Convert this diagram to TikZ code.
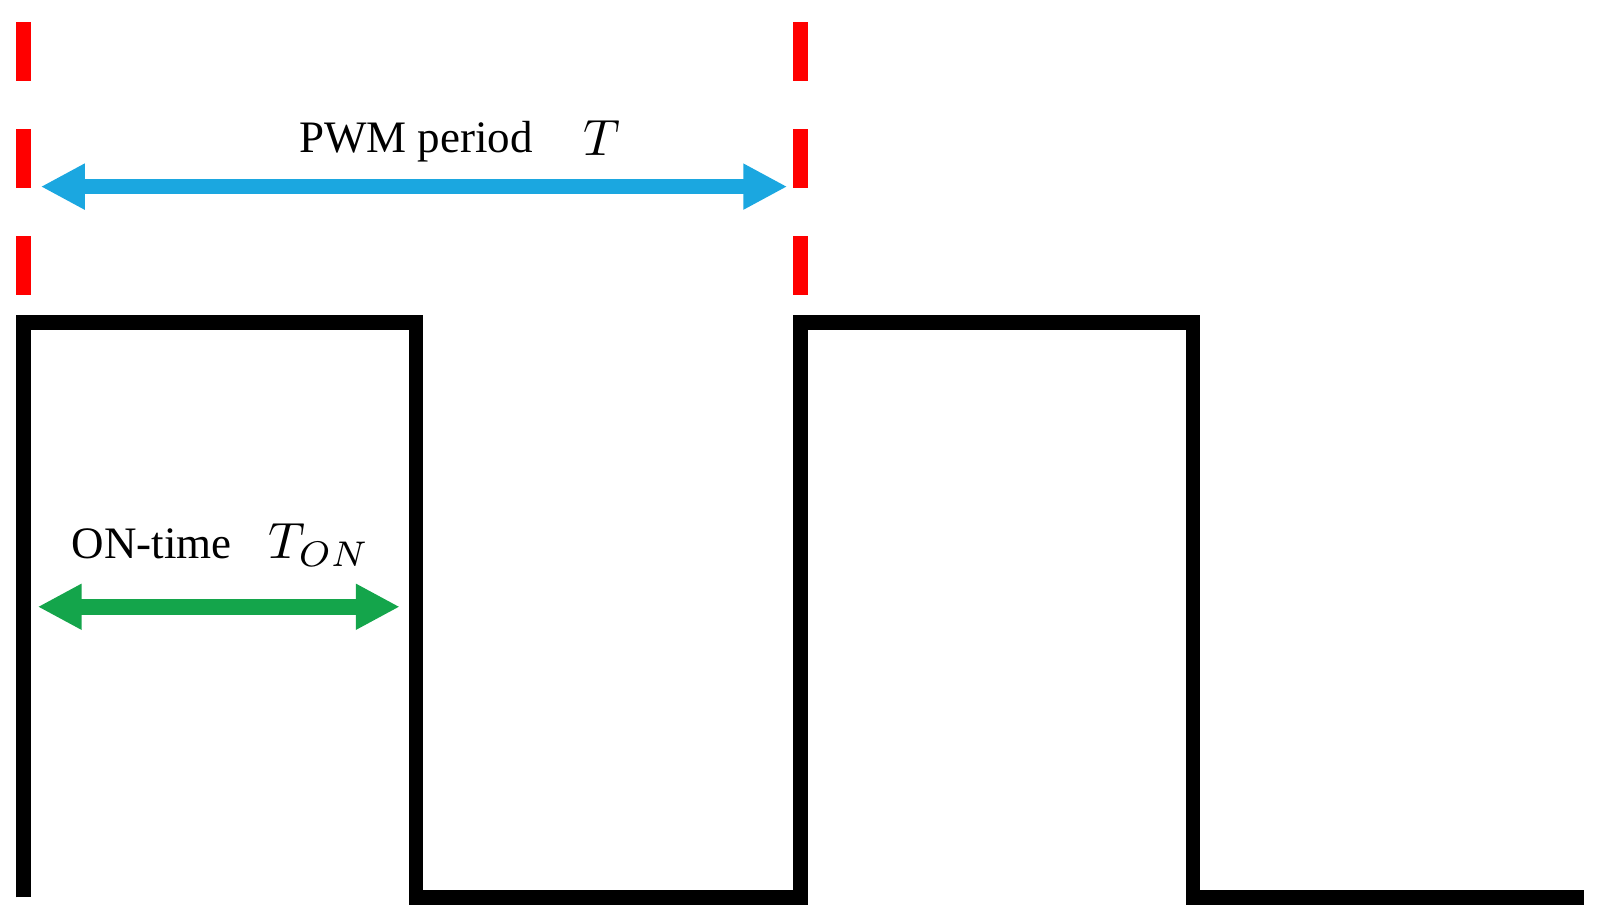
\documentclass[tikz,border=0pt]{standalone}
\usepackage{graphicx}
\usepackage{fontspec}
\setmainfont{Liberation Serif}
\usetikzlibrary{arrows.meta}
\definecolor{pwmblue}{HTML}{1BA7E0}
\definecolor{pwmgreen}{HTML}{14A54B}
\definecolor{pwmred}{HTML}{FF0000}
\newcommand{\bigmath}[1]{\scalebox{5.1}{$#1$}}
\begin{document}
\begin{tikzpicture}[x=1.0198pt,y=-1.0198pt,
  wave/.style={line width=14.5pt,line join=miter,line cap=butt},
  marker/.style={pwmred,line width=14.5pt,dash pattern=on 59pt off 48pt},
  span/.style={line width=15.5pt,{Triangle[length=44pt,width=43pt]}-{Triangle[length=44pt,width=43pt]}},
  txt/.style={inner sep=0pt,anchor=base,font=\fontsize{45}{52}\selectfont},
  mth/.style={inner sep=0pt,anchor=base}]
\useasboundingbox (0,0) rectangle (1568,904);
% waveform corners
\coordinate (w0) at (23,880);
\coordinate (w1) at (23,316);
\coordinate (w2) at (408,316);
\coordinate (w3) at (408,880);
\coordinate (w4) at (785,880);
\coordinate (w5) at (785,316);
\coordinate (w6) at (1170,316);
\coordinate (w7) at (1170,880);
\coordinate (w8) at (1553,880);
\draw[wave] (w0) -- (w1) -- (w2) -- (w3) -- (w4) -- (w5) -- (w6) -- (w7) -- (w8);
% red period markers
\coordinate (m1a) at (23,22);
\coordinate (m1b) at (23,290);
\coordinate (m2a) at (785,22);
\coordinate (m2b) at (785,290);
\draw[marker] (m1a) -- (m1b);
\draw[marker] (m2a) -- (m2b);
% PWM period arrow
\coordinate (pa) at (40,183);
\coordinate (pb) at (772,183);
\draw[span,pwmblue] (pa) -- (pb);
\node[txt] (ptext) at (408,150) {PWM period};
\node[mth] (psym) at (590,152) {\bigmath{T}};
% ON-time arrow
\coordinate (oa) at (37,595);
\coordinate (ob) at (392,595);
\draw[span,pwmgreen] (oa) -- (ob);
\node[txt] (otext) at (149,548) {ON-time};
\node[mth] (osym) at (313,548) {\bigmath{T_{ON}}};
\end{tikzpicture}
\end{document}
